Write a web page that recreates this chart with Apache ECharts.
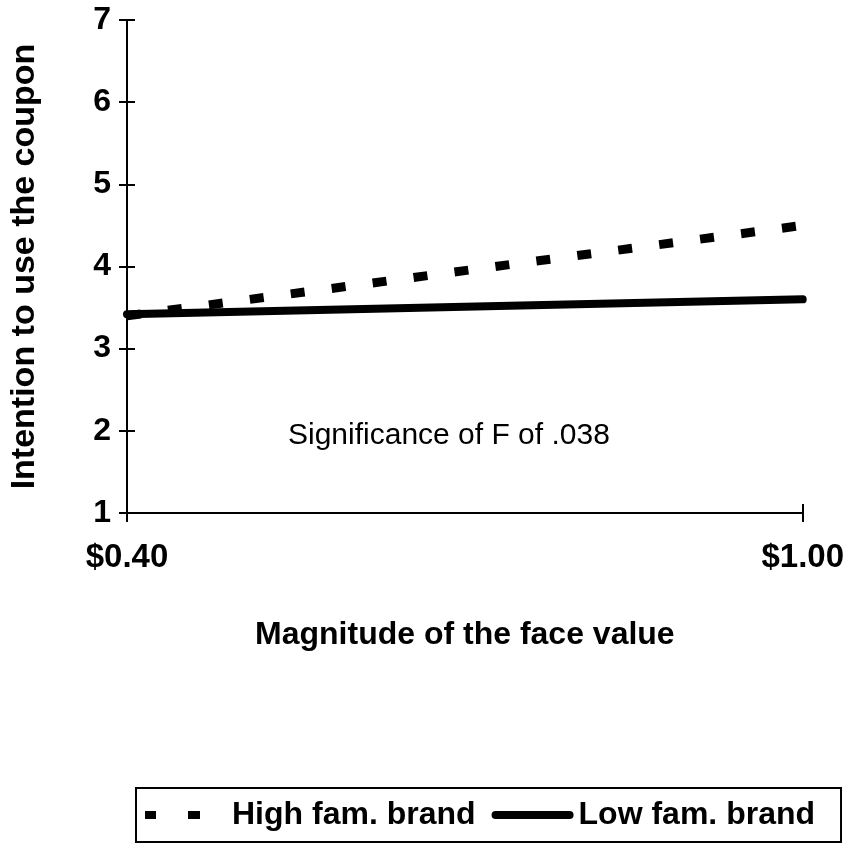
<!DOCTYPE html>
<html><head><meta charset="utf-8">
<script src="https://cdn.jsdelivr.net/npm/echarts@6/dist/echarts.min.js"></script>
<style>html,body{margin:0;padding:0;background:#fff}#c{width:847px;height:846px}</style>
</head><body><div id="c"></div>
<script>
const categories = ['$0.40', '$1.00'];
const highFam = [3.4, 4.5];
const lowFam = [3.42, 3.6];
const seriesNames = ['High fam. brand', 'Low fam. brand'];
const yTitle = 'Intention to use the coupon';
const xTitle = 'Magnitude of the face value';
const note = 'Significance of F of .038';

const chart = echarts.init(document.getElementById('c'));
const F = 'Arial, "Liberation Sans", sans-serif';
const tickStyle = {color: '#000', width: 2};
chart.setOption({
  animation: false,
  backgroundColor: '#fff',
  grid: {left: 123, right: 44, top: 20, bottom: 333},
  xAxis: [{
    type: 'category', data: categories, boundaryGap: false,
    axisLine: {lineStyle: tickStyle},
    axisTick: {show: true, length: 9, lineStyle: tickStyle},
    axisLabel: {color: '#000', fontFamily: F, fontWeight: 'bold', fontSize: 33, margin: 28},
    name: xTitle, nameLocation: 'middle', nameGap: 106,
    nameTextStyle: {color: '#000', fontFamily: F, fontWeight: 'bold', fontSize: 32}
  }, {
    type: 'category', data: categories, boundaryGap: false, position: 'bottom',
    axisLine: {show: false},
    axisTick: {show: true, inside: true, length: 9, lineStyle: tickStyle},
    axisLabel: {show: false}
  }],
  yAxis: [{
    type: 'value', min: 1, max: 7, interval: 1,
    splitLine: {show: false},
    axisLine: {show: true, lineStyle: tickStyle},
    axisTick: {show: true, length: 8, lineStyle: tickStyle},
    axisLabel: {color: '#000', fontFamily: F, fontWeight: 'bold', fontSize: 32, margin: 16},
    name: yTitle, nameLocation: 'middle', nameGap: 85, nameRotate: 90,
    nameTextStyle: {color: '#000', fontFamily: F, fontWeight: 'bold', fontSize: 34}
  }, {
    type: 'value', min: 1, max: 7, interval: 1, position: 'left',
    splitLine: {show: false}, axisLine: {show: false},
    axisTick: {show: true, inside: true, length: 8, lineStyle: tickStyle},
    axisLabel: {show: false}
  }],
  legend: {
    left: 136, top: 788,
    itemWidth: 82, itemHeight: 8, itemGap: 16,
    padding: [11, 26, 11, 9],
    borderColor: '#000', borderWidth: 2, borderRadius: 0,
    textStyle: {color: '#000', fontFamily: F, fontWeight: 'bold', fontSize: 32},
    data: [
      {name: seriesNames[0], icon: 'path://M0,0h11v8h-11z M43,0h12v8h-12z M81.8,3.9h0.2v0.2h-0.2z'},
      {name: seriesNames[1], icon: 'path://M4,0H78A4,4 0 0 1 78,8H4A4,4 0 0 1 4,0Z'}
    ]
  },
  series: [{
    name: seriesNames[0], type: 'line', data: highFam, symbol: 'none',
    lineStyle: {color: '#000', width: 9, type: [14, 27.3]}, itemStyle: {color: '#000'}
  }, {
    name: seriesNames[1], type: 'line', data: lowFam, symbol: 'none',
    lineStyle: {color: '#000', width: 8, cap: 'round'}, itemStyle: {color: '#000'}
  }],
  graphic: [{
    type: 'text', left: 288, top: 421,
    style: {text: note, fill: '#000', font: '30px ' + F}
  }]
});
</script></body></html>
